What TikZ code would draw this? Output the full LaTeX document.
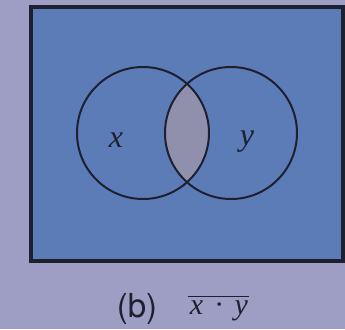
\documentclass[tikz,border=0pt]{standalone}
\usepackage{fontspec}
\setmainfont{Liberation Serif}
\newfontfamily\captionfont{TeX Gyre Heros}
\definecolor{papercolor}{RGB}{158, 158, 196}
\definecolor{bluecolor}{RGB}{92, 124, 184}
\definecolor{lenscolor}{RGB}{144, 144, 172}
\definecolor{inkcolor}{RGB}{30, 32, 48}

\begin{document}
\begin{tikzpicture}[x=1pt,y=-1pt]
    % Define the radius of the two sets
    \newcommand{\setradius}{66pt}

    % Paper
    \fill[papercolor] (0,0) rectangle (345,329);
    \useasboundingbox (0,0) rectangle (345,329);

    % Universe, shaded
    \fill[bluecolor] (31,7) rectangle (343,261);

    % Intersection left unshaded
    \begin{scope}
        \clip (143,133) circle (\setradius);
        \fill[lenscolor] (231,133) circle (\setradius);
    \end{scope}

    % Outlines
    \draw[inkcolor, line width=3.5pt] (31,7) rectangle (343,261);
    \draw[inkcolor, line width=2pt] (143,133) circle (\setradius);
    \draw[inkcolor, line width=2pt] (231,133) circle (\setradius);

    % Labels for the sets
    \node[inkcolor, font=\fontsize{32}{36}\selectfont\itshape] (xlabel) at (116,140) {x};
    \node[inkcolor, font=\fontsize{32}{36}\selectfont\itshape] (ylabel) at (247,142) {y};

    % Caption
    \node[inkcolor, font=\fontsize{33}{36}\selectfont\captionfont] (blabel) at (137,309) {(b)};
    \node[inkcolor, font=\fontsize{30}{34}\selectfont, inner sep=0pt] (exprlabel) at (219,311)
        {\itshape x\hspace{0.4em}\textperiodcentered\hspace{0.4em}y};
    \draw[inkcolor, line width=1.5pt] ([xshift=-2pt, yshift=4pt]exprlabel.north west)
        -- ([xshift=1pt, yshift=4pt]exprlabel.north east);
\end{tikzpicture}
\end{document}
